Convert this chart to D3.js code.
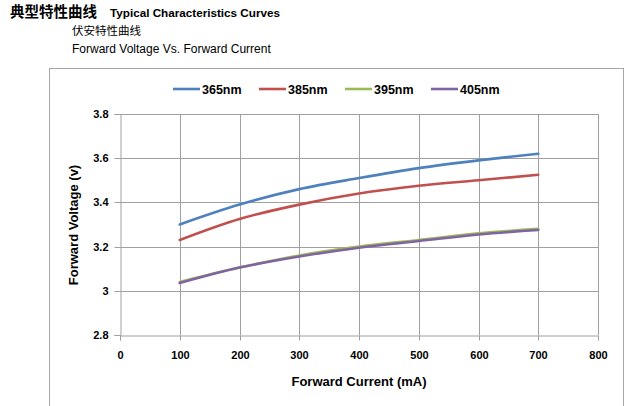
<!DOCTYPE html>
<html><head><meta charset="utf-8">
<script src="https://cdn.jsdelivr.net/npm/d3@7"></script>
<style>body{margin:0;background:#fff;}svg{display:block;}</style>
</head><body>
<script>
const currents = [100, 200, 300, 400, 500, 600, 700];
const v365 = [3.30, 3.39, 3.46, 3.51, 3.555, 3.59, 3.62];
const v385 = [3.23, 3.325, 3.39, 3.44, 3.475, 3.50, 3.525];
const v395 = [3.04, 3.105, 3.16, 3.20, 3.23, 3.26, 3.28];
const v405 = [3.035, 3.105, 3.155, 3.195, 3.225, 3.255, 3.275];
const seriesNames = ["365nm", "385nm", "395nm", "405nm"];
const seriesColors = ["#4F81BD", "#C0504D", "#9BBB59", "#8064A2"];
const xTicks = [0, 100, 200, 300, 400, 500, 600, 700, 800];
const yTicks = [2.8, 3.0, 3.2, 3.4, 3.6, 3.8];
const yTickLabels = ["2.8", "3", "3.2", "3.4", "3.6", "3.8"];

const series = [v365, v385, v395, v405].map((vals, i) => ({
  name: seriesNames[i], color: seriesColors[i],
  pts: currents.map((c, j) => [c, vals[j]])
}));

const W = 626, H = 406;
const svg = d3.select("body").append("svg").attr("width", W).attr("height", H);

const font = "'Liberation Sans', Arial, sans-serif";
// titles
svg.append("text").attr("x", 10).attr("y", 17).attr("font-family", "'Noto Sans CJK SC', sans-serif")
  .attr("font-weight", "bold").attr("font-size", 14.5).attr("fill", "#000").text("典型特性曲线");
svg.append("text").attr("x", 110).attr("y", 17).attr("font-family", font)
  .attr("font-weight", "bold").attr("font-size", 11.7).attr("fill", "#000").text("Typical Characteristics Curves");
svg.append("text").attr("x", 72).attr("y", 35).attr("font-family", "'Noto Sans CJK SC', sans-serif")
  .attr("font-size", 11.5).attr("fill", "#000").text("伏安特性曲线");
svg.append("text").attr("x", 72).attr("y", 53).attr("font-family", font)
  .attr("font-size", 12).attr("fill", "#000").text("Forward Voltage Vs. Forward Current");

// chart frame
svg.append("rect").attr("x", 49.5).attr("y", 68.5).attr("width", 574).attr("height", 340)
  .attr("fill", "#fff").attr("stroke", "#a6a6a6").attr("stroke-width", 1);

const x = d3.scaleLinear().domain([0, 800]).range([120, 598]);
const y = d3.scaleLinear().domain([2.8, 3.8]).range([335, 114]);

const g = svg.append("g");
// gridlines
g.selectAll(".vg").data(xTicks.slice(1)).join("line")
  .attr("x1", d => Math.round(x(d)) + 0.5).attr("x2", d => Math.round(x(d)) + 0.5)
  .attr("y1", y(3.8)).attr("y2", y(2.8)).attr("stroke", "#a0a0a0").attr("stroke-width", 1);
g.selectAll(".hg").data(yTicks.slice(1)).join("line")
  .attr("x1", x(0)).attr("x2", x(800))
  .attr("y1", d => Math.round(y(d)) + 0.5).attr("y2", d => Math.round(y(d)) + 0.5)
  .attr("stroke", "#a0a0a0").attr("stroke-width", 1);

// axes
const xAxis = d3.axisBottom(x).tickValues(xTicks).tickSize(5).tickPadding(11).tickFormat(d3.format("d"));
const yAxis = d3.axisLeft(y).tickValues(yTicks).tickSize(6).tickPadding(6).tickFormat((d, i) => yTickLabels[i]);
const gx = svg.append("g").attr("transform", `translate(0,${Math.round(y(2.8)) + 0.5})`).call(xAxis);
const gy = svg.append("g").attr("transform", `translate(${Math.round(x(0)) + 0.5},0)`).call(yAxis);
[gx, gy].forEach(a => {
  a.select(".domain").attr("stroke", "#a0a0a0");
  a.selectAll(".tick line").attr("stroke", "#a0a0a0");
  a.selectAll("text").attr("font-family", font).attr("font-weight", "bold").attr("font-size", 11).attr("fill", "#000");
});
gx.selectAll(".tick").attr("transform", d => `translate(${Math.round(x(d)) + 0.5},0)`);
gy.selectAll(".tick").attr("transform", d => `translate(0,${Math.round(y(d)) + 0.5})`);

// lines
const line = d3.line().x(d => x(d[0])).y(d => y(d[1])).curve(d3.curveCatmullRom.alpha(0.5));
svg.append("g").selectAll("path").data(series).join("path")
  .attr("d", d => line(d.pts)).attr("fill", "none")
  .attr("stroke", d => d.color).attr("stroke-width", 2.6).attr("stroke-linecap", "round");

// legend
const legX = [173, 259, 345, 431];
const leg = svg.append("g").selectAll("g").data(series).join("g")
  .attr("transform", (d, i) => `translate(${legX[i]},89)`);
leg.append("line").attr("x1", 0).attr("x2", 27).attr("y1", 0).attr("y2", 0)
  .attr("stroke", d => d.color).attr("stroke-width", 2.6);
leg.append("text").attr("x", 29).attr("y", 4.5).attr("font-family", font).attr("font-weight", "bold")
  .attr("font-size", 12.5).attr("fill", "#000").text(d => d.name);

// axis titles
svg.append("text").attr("x", 359).attr("y", 386).attr("text-anchor", "middle").attr("font-family", font)
  .attr("font-weight", "bold").attr("font-size", 13).attr("fill", "#000").text("Forward Current (mA)");
svg.append("text").attr("transform", "translate(78,225) rotate(-90)").attr("text-anchor", "middle")
  .attr("font-family", font).attr("font-weight", "bold").attr("font-size", 13).attr("fill", "#000")
  .text("Forward Voltage (v)");
</script>
</body></html>
